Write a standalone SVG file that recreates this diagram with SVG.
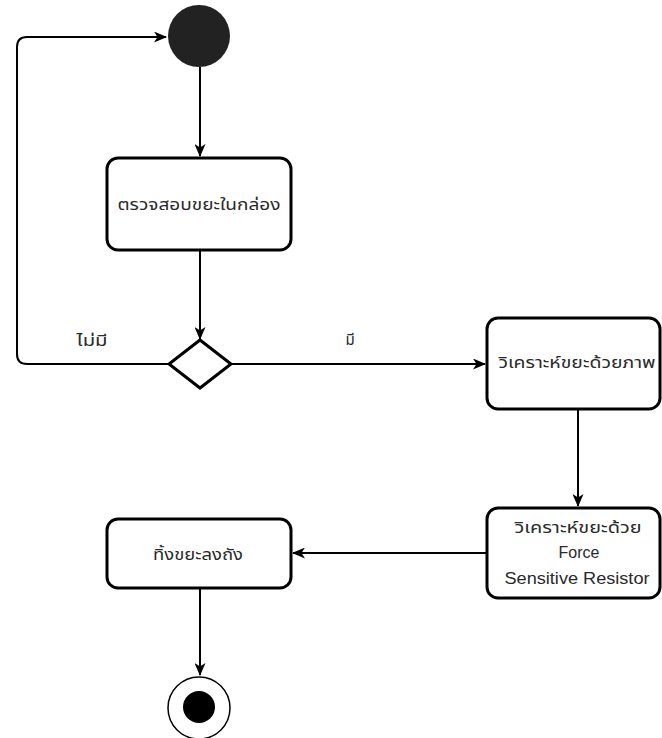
<svg xmlns="http://www.w3.org/2000/svg" width="662" height="738" viewBox="0 0 662 738">
<style>
.box{fill:#fff;stroke:#000;stroke-width:3}
.edge{fill:none;stroke:#000;stroke-width:2}
.t{font-family:"Noto Sans Thai","Liberation Sans","DejaVu Sans",sans-serif;font-size:15px;fill:#2a2a2a;text-anchor:middle;dominant-baseline:central}
.e{font-family:"Liberation Sans",Arial,sans-serif;font-size:16px;fill:#2a2a2a;text-anchor:middle;dominant-baseline:central}
</style>
<defs>
<marker id="arr" viewBox="0 0 13 11" refX="12" refY="5.5" markerWidth="13" markerHeight="11" markerUnits="userSpaceOnUse" orient="auto">
<path d="M0,0 L13,5.5 L0,11 L3.5,5.5 Z" fill="#000"/>
</marker>
</defs>
<rect width="662" height="738" fill="#fff"/>
<g id="connectors">
<path class="edge" d="M200,67 V156" marker-end="url(#arr)"/>
<path class="edge" d="M200,250 V339" marker-end="url(#arr)"/>
<path class="edge" d="M168,364 H27 Q17,364 17,354 V47 Q17,37 27,37 H166" marker-end="url(#arr)"/>
<path class="edge" d="M231,364 H485" marker-end="url(#arr)"/>
<path class="edge" d="M578,410 V506" marker-end="url(#arr)"/>
<path class="edge" d="M487,553 H293" marker-end="url(#arr)"/>
<path class="edge" d="M200,588 V675" marker-end="url(#arr)"/>
<text class="t" x="92" y="341" textLength="31" lengthAdjust="spacingAndGlyphs">ไม่มี</text>
<text class="t" x="350" y="340">มี</text>
</g>
<g id="start">
<circle cx="199" cy="36" r="31" fill="#222"/>
</g>
<g id="check">
<rect class="box" x="107" y="158" width="184" height="92" rx="11"/>
<text class="t" x="199" y="205" textLength="163" lengthAdjust="spacingAndGlyphs">ตรวจสอบขยะในกล่อง</text>
</g>
<g id="decision">
<polygon points="200,340 231,364 200,388 169,364" fill="#fff" stroke="#000" stroke-width="3"/>
</g>
<g id="image">
<rect class="box" x="487" y="318" width="173" height="91" rx="11"/>
<text class="t" x="577" y="363" textLength="157" lengthAdjust="spacingAndGlyphs">วิเคราะห์ขยะด้วยภาพ</text>
</g>
<g id="fsr">
<rect class="box" x="487" y="508" width="173" height="90" rx="11"/>
<text class="t" x="578" y="528" textLength="127" lengthAdjust="spacingAndGlyphs">วิเคราะห์ขยะด้วย</text>
<text class="e" x="579" y="552">Force</text>
<text class="e" x="577" y="578" textLength="145" lengthAdjust="spacingAndGlyphs">Sensitive Resistor</text>
</g>
<g id="dispose">
<rect class="box" x="107" y="519" width="184" height="69" rx="11"/>
<text class="t" x="198" y="555" textLength="90" lengthAdjust="spacingAndGlyphs">ทิ้งขยะลงถัง</text>
</g>
<g id="end">
<circle cx="199" cy="708" r="31" fill="#fff" stroke="#000" stroke-width="1.5"/>
<circle cx="199" cy="707" r="16" fill="#000"/>
</g>
</svg>
